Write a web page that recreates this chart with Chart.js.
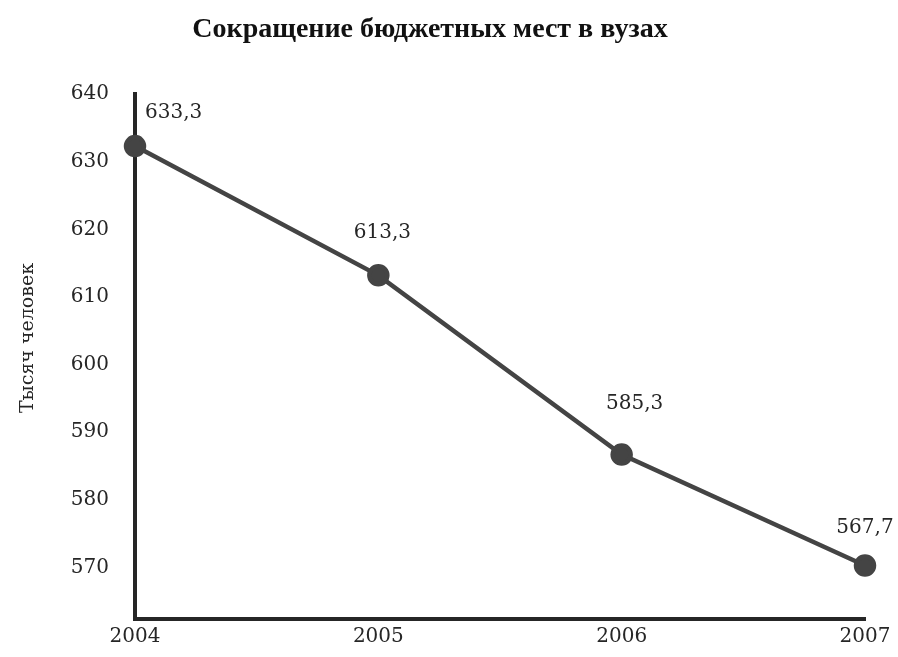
<!DOCTYPE html>
<html>
<head>
<meta charset="utf-8">
<script src="https://cdn.jsdelivr.net/npm/chart.js@4.4.1/dist/chart.umd.min.js"></script>
<style>
  html, body { margin: 0; padding: 0; background: #fff; }
</style>
</head>
<body>
<canvas id="chart" width="898" height="657"></canvas>
<script>
const TITLE = 'Сокращение бюджетных мест в вузах';
const Y_TITLE = 'Тысяч человек';
const years = ['2004', '2005', '2006', '2007'];
// where the points sit on the picture
const plotted = [632.3, 613.2, 586.7, 570.3];
// what is printed next to them
const pointLabels = ['633,3', '613,3', '585,3', '567,7'];
const yTicks = [570, 580, 590, 600, 610, 620, 630, 640];

const INK = '#262626';
const LINE = '#444444';
const serif = "'DejaVu Serif', 'Liberation Serif', serif";

// title, y-axis caption and the number over each point
const annotate = {
  id: 'annotate',
  afterDraw(chart, args, opts) {
    const { ctx } = chart;
    ctx.save();
    ctx.fillStyle = '#111';
    ctx.font = "bold 28px 'Liberation Serif', serif";
    ctx.textAlign = 'center';
    ctx.textBaseline = 'middle';
    ctx.fillText(TITLE, 430, 30);

    ctx.fillStyle = INK;
    ctx.font = '19px ' + serif;
    ctx.translate(28, 338);
    ctx.rotate(-Math.PI / 2);
    ctx.fillText(Y_TITLE, 0, 0);
    ctx.restore();

    ctx.save();
    ctx.fillStyle = INK;
    ctx.font = '20px ' + serif;
    ctx.textBaseline = 'middle';
    const meta = chart.getDatasetMeta(0);
    meta.data.forEach((pt, i) => {
      const [dx, dy, align] = opts.offsets[i];
      ctx.textAlign = align;
      ctx.fillText(pointLabels[i], pt.x + dx, pt.y + dy);
    });
    ctx.restore();
  }
};

new Chart(document.getElementById('chart'), {
  type: 'line',
  data: {
    labels: years,
    datasets: [{
      data: plotted,
      borderColor: LINE,
      borderWidth: 4.5,
      pointRadius: 9,
      pointBackgroundColor: LINE,
      pointBorderColor: LINE,
      tension: 0
    }]
  },
  options: {
    responsive: false,
    animation: false,
    layout: { padding: { top: 94, right: 33, left: 0, bottom: 0 } },
    plugins: {
      legend: { display: false },
      tooltip: { enabled: false },
      annotate: { offsets: [[10, -33, 'left'], [4, -43, 'center'], [13, -51, 'center'], [0, -38, 'center']] }
    },
    scales: {
      x: {
        offset: false,
        grid: { display: false, drawTicks: false },
        border: { display: true, color: INK, width: 4 },
        ticks: { font: { family: serif, size: 20 }, color: INK, padding: 6 },
        afterFit: s => { s.height = 35; }
      },
      y: {
        min: 562.4,
        max: 640,
        grid: { display: false, drawTicks: false },
        border: { display: true, color: INK, width: 4 },
        ticks: {
          font: { family: serif, size: 20 },
          color: INK,
          padding: 26
        },
        afterBuildTicks: s => { s.ticks = yTicks.map(v => ({ value: v })); },
        afterFit: s => { s.width = 135; }
      }
    }
  },
  plugins: [annotate]
});
</script>
</body>
</html>
